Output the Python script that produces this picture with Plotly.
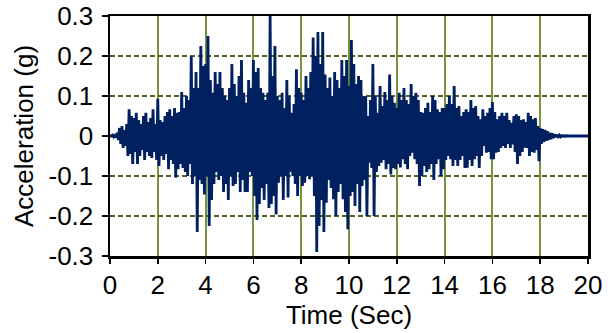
import numpy as np
import plotly.graph_objects as go

accel_s00 = [0, 0, 0.002, -0.002, 0.004, -0.004, 0.008, -0.01, 0.02, -0.02, 0.025, -0.03, 0.015, -0.025, 0.03, -0.05, 0.067, -0.045, 0.05, -0.07]
accel_s01 = [0.045, -0.04, 0.058, -0.07, 0.04, -0.05, 0.03, -0.035, 0.05, -0.06, 0.058, -0.04, 0.035, -0.05, 0.045, -0.055, 0.067, -0.04, 0.03, -0.06]
accel_s02 = [0.093, -0.075, 0.04, -0.05, 0.035, -0.06, 0.05, -0.045, 0.06, -0.083, 0.067, -0.06, 0.05, -0.07, 0.07, -0.104, 0.058, -0.083, 0.06, -0.07]
accel_s03 = [0.11, -0.08, 0.07, -0.09, 0.1, -0.1, 0.09, -0.07, 0.2, -0.12, 0.12, -0.1, 0.16, -0.24, 0.12, -0.11, 0.225, -0.12, 0.175, -0.146]
accel_s04 = [0.18, -0.1, 0.25, -0.225, 0.14, -0.16, 0.108, -0.12, 0.16, -0.09, 0.13, -0.11, 0.16, -0.1, 0.12, -0.14, 0.1, -0.12, 0.09, -0.16]
accel_s05 = [0.12, -0.1, 0.18, -0.125, 0.13, -0.12, 0.1, -0.09, 0.15, -0.14, 0.19, -0.11, 0.108, -0.14, 0.083, -0.14, 0.14, -0.09, 0.12, -0.1]
accel_s06 = [0.19, -0.15, 0.16, -0.21, 0.17, -0.17, 0.12, -0.13, 0.108, -0.16, 0.09, -0.12, 0.108, -0.18, 0.3, -0.17, 0.15, -0.15, 0.225, -0.196]
accel_s07 = [0.1, -0.117, 0.09, -0.1, 0.108, -0.16, 0.07, -0.1, 0.14, -0.154, 0.1, -0.09, 0.058, -0.1, 0.08, -0.12, 0.167, -0.15, 0.12, -0.1]
accel_s08 = [0.108, -0.125, 0.09, -0.117, 0.15, -0.1, 0.12, -0.108, 0.16, -0.1, 0.246, -0.15, 0.2, -0.29, 0.26, -0.225, 0.18, -0.16, 0.26, -0.24]
accel_s09 = [0.154, -0.167, 0.12, -0.11, 0.146, -0.13, 0.1, -0.158, 0.16, -0.2, 0.14, -0.14, 0.12, -0.12, 0.19, -0.158, 0.15, -0.19, 0.19, -0.233]
accel_s10 = [0.125, -0.15, 0.24, -0.14, 0.18, -0.175, 0.13, -0.12, 0.15, -0.19, 0.14, -0.125, 0.1, -0.11, 0.1, -0.2, 0.05, -0.067, 0.09, -0.08]
accel_s11 = [0.18, -0.2, 0.1, -0.09, 0.058, -0.075, 0.125, -0.067, 0.075, -0.06, 0.11, -0.083, 0.09, -0.07, 0.154, -0.096, 0.1, -0.08, 0.083, -0.083]
accel_s12 = [0.07, -0.07, 0.108, -0.079, 0.09, -0.058, 0.12, -0.07, 0.09, -0.083, 0.08, -0.05, 0.13, -0.042, 0.1, -0.058, 0.108, -0.07, 0.09, -0.125]
accel_s13 = [0.06, -0.1, 0.058, -0.075, 0.07, -0.09, 0.083, -0.083, 0.06, -0.07, 0.1, -0.11, 0.09, -0.07, 0.067, -0.058, 0.06, -0.1, 0.07, -0.083]
accel_s14 = [0.07, -0.06, 0.08, -0.05, 0.1, -0.058, 0.08, -0.075, 0.125, -0.06, 0.07, -0.075, 0.075, -0.06, 0.05, -0.05, 0.06, -0.08, 0.067, -0.079]
accel_s15 = [0.06, -0.06, 0.09, -0.075, 0.07, -0.058, 0.075, -0.05, 0.05, -0.08, 0.042, -0.05, 0.067, -0.025, 0.05, -0.042, 0.058, -0.04, 0.07, -0.058]
accel_s16 = [0.085, -0.058, 0.06, -0.042, 0.042, -0.04, 0.05, -0.03, 0.058, -0.025, 0.05, -0.03, 0.058, -0.02, 0.04, -0.03, 0.033, -0.021, 0.05, -0.04]
accel_s17 = [0.054, -0.07, 0.05, -0.05, 0.04, -0.04, 0.042, -0.029, 0.035, -0.03, 0.058, -0.05, 0.05, -0.04, 0.042, -0.042, 0.045, -0.035, 0.025, -0.063]
accel_s18 = [0.02, -0.02, 0.017, -0.015, 0.015, -0.012, 0.012, -0.01, 0.008, -0.008, 0.007, -0.005, 0.004, -0.003, 0.003, -0.002, 0.002, -0.002, 0.001, -0.001]
accel_s19 = [0.001, -0.001, 0.0005, -0.0005, 0, 0, 0, 0, 0, 0, 0, 0, 0, 0, 0, 0, 0, 0, 0, 0]
accel_end = [0]

accel = (accel_s00 + accel_s01 + accel_s02 + accel_s03 + accel_s04 + accel_s05 + accel_s06
         + accel_s07 + accel_s08 + accel_s09 + accel_s10 + accel_s11 + accel_s12 + accel_s13
         + accel_s14 + accel_s15 + accel_s16 + accel_s17 + accel_s18 + accel_s19 + accel_end)
dt = 0.05
time = [round(i * dt, 2) for i in range(len(accel))]

x_ticks = [0, 2, 4, 6, 8, 10, 12, 14, 16, 18, 20]
y_ticks = [-0.3, -0.2, -0.1, 0, 0.1, 0.2, 0.3]
y_tick_text = ["-0.3", "-0.2", "-0.1", "0", "0.1", "0.2", "0.3"]

FONT = "Liberation Sans, Arial, sans-serif"

fig = go.Figure()
fig.add_trace(go.Scatter(x=time, y=accel, mode="lines",
                         line=dict(color="#002060", width=2.8), hoverinfo="skip"))

fig.update_layout(
    width=610, height=333,
    margin=dict(l=110, r=22, t=16, b=77, autoexpand=False),
    paper_bgcolor="white", plot_bgcolor="white",
    showlegend=False,
    font=dict(family=FONT, size=26, color="black"),
)
fig.update_xaxes(
    range=[0, 20], tickvals=x_ticks, ticktext=[str(v) for v in x_ticks],
    showgrid=True, gridcolor="#77933C", gridwidth=2,
    showline=True, linecolor="black", linewidth=2.5, mirror=True,
    ticks="outside", ticklen=5, tickcolor="black", tickwidth=1.5,
    zeroline=False, automargin=False, ticklabelstandoff=-1,
    ticklabeloverflow="allow",
    title=dict(text="Time (Sec)", standoff=2, font=dict(size=26)),
    tickfont=dict(size=26),
)
fig.update_yaxes(
    range=[-0.3, 0.3], tickvals=y_ticks, ticktext=y_tick_text,
    showgrid=True, gridcolor="#4F6228", gridwidth=1.5, griddash="5px,3px",
    showline=True, linecolor="black", linewidth=2.5, mirror=True,
    ticks="outside", ticklen=6, tickcolor="black", tickwidth=1.5,
    zeroline=False, automargin=False, ticklabelstandoff=3,
    ticklabeloverflow="allow",
    title=dict(text="Acceleration (g)", standoff=8, font=dict(size=26)),
    tickfont=dict(size=26),
)

# remove the page's default 8px body margin so the figure fills the window
fig.write_html("out.html",
               config={"displayModeBar": False, "staticPlot": True},
               post_script="document.body.style.margin='0';document.body.style.overflow='hidden';")
